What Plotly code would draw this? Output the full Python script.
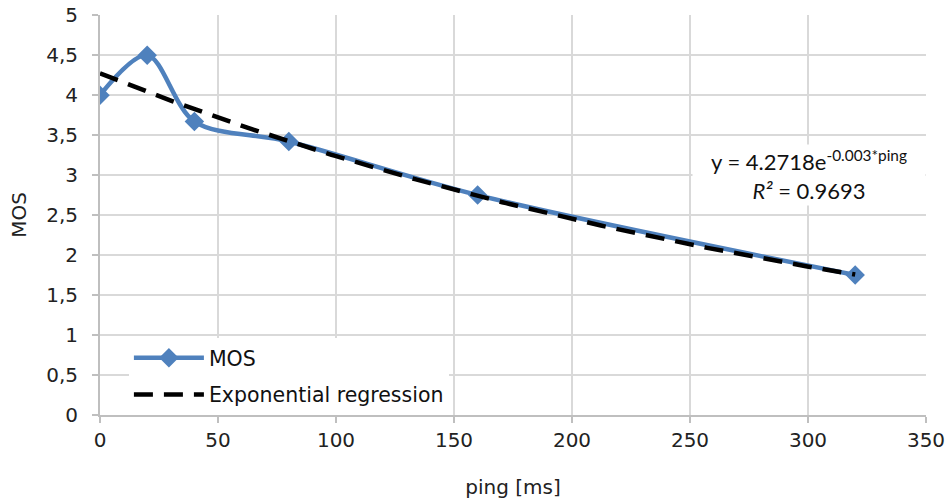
import numpy as np
import plotly.graph_objects as go

ping = [0, 20, 40, 80, 160, 320]
mos = [4.0, 4.5, 3.67, 3.42, 2.75, 1.75]
x_ticks = [0, 50, 100, 150, 200, 250, 300, 350]
y_ticks = [0, 0.5, 1, 1.5, 2, 2.5, 3, 3.5, 4, 4.5, 5]

# exponential regression fitted on the data (ln y = ln a + b x)
b, ln_a = np.polyfit(ping, np.log(mos), 1)
xr = np.linspace(min(ping), max(ping), 200)
yr = np.exp(ln_a) * np.exp(b * xr)

BLUE = "#4F81BD"
GRID = "#D9D9D9"
AXIS = "#BFBFBF"
FONT = "DejaVu Sans"

fig = go.Figure()
fig.add_trace(go.Scatter(
    x=ping, y=mos, name="MOS", mode="lines+markers", legendgroup="a",
    line=dict(color=BLUE, width=4.5, shape="spline", smoothing=0.9),
    marker=dict(symbol="diamond", size=15, color=BLUE),
))
fig.add_trace(go.Scatter(
    x=xr, y=yr, name="Exponential regression", mode="lines", legendgroup="b",
    line=dict(color="black", width=4.5, dash="19px,11px"),
))

fig.update_layout(
    width=950, height=499,
    margin=dict(l=100, r=24, t=15, b=84, autoexpand=False),
    paper_bgcolor="white", plot_bgcolor="white",
    separators=", ",
    font=dict(family=FONT, size=20, color="#222222"),
    showlegend=True,
    legend=dict(
        x=0.035, y=0.0, xanchor="left", yanchor="bottom",
        bgcolor="white", font=dict(family=FONT, size=20.5, color="#111111"),
        itemwidth=70, tracegroupgap=7,
    ),
    xaxis=dict(
        range=[0, 350], tickvals=x_ticks, showgrid=True, gridcolor=GRID, gridwidth=2,
        showline=True, linecolor=AXIS, linewidth=2, ticks="outside", ticklen=6,
        tickcolor=AXIS, tickwidth=2, zeroline=False, automargin=False,
        ticklabeloverflow="allow",
        title=dict(text="ping [ms]", font=dict(family=FONT, size=20), standoff=30),
        tickfont=dict(family=FONT, size=20),
    ),
    yaxis=dict(
        range=[0, 5.002], tickvals=y_ticks, showgrid=True, gridcolor=GRID, gridwidth=2,
        showline=True, linecolor=AXIS, linewidth=2, ticks="outside", ticklen=6,
        tickcolor=AXIS, tickwidth=2, zeroline=False, automargin=False,
        ticklabeloverflow="allow", ticklabelstandoff=10,
        title=dict(text="MOS", font=dict(family=FONT, size=20), standoff=14),
        tickfont=dict(family=FONT, size=20),
    ),
    annotations=[dict(
        xref="paper", yref="paper", x=1.0, y=0.6, xanchor="right", yanchor="middle",
        text="y = 4.2718e<sup>-0.003*ping</sup><br><i>R²</i> = 0.9693",
        showarrow=False, bgcolor="white", width=230, align="center",
        font=dict(family="Lato", size=22, color="#111111"),
    )],
)

# remove the default 8px body margin so the figure fills the 950x499 window exactly
fig.write_html("out.html", config={"displayModeBar": False},
               post_script="document.body.style.margin='0';")
